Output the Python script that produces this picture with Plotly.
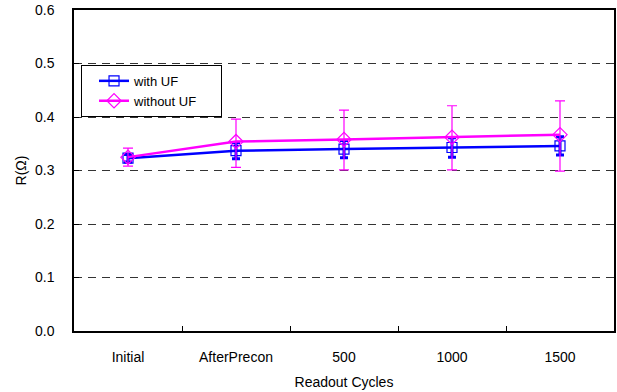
import plotly.graph_objects as go

categories = ["Initial", "AfterPrecon", "500", "1000", "1500"]
series_names = ["with UF", "without UF"]
with_uf = [0.323, 0.337, 0.340, 0.343, 0.346]
with_uf_err = [0.007, 0.015, 0.016, 0.018, 0.017]
without_uf = [0.325, 0.354, 0.358, 0.362, 0.367]
without_uf_err_plus = [0.017, 0.042, 0.055, 0.059, 0.063]
without_uf_err_minus = [0.017, 0.048, 0.057, 0.061, 0.068]

font = "Liberation Sans, Arial, sans-serif"
pad = "\u00a0" * 5  # invisible right padding inside the legend box

fig = go.Figure()
fig.add_trace(go.Scatter(
    x=categories, y=with_uf, name=series_names[0], mode="lines+markers",
    line=dict(color="#0000FF", width=2.5),
    marker=dict(symbol="square-open", size=10, color="#0000FF", line=dict(width=1.2)),
    error_y=dict(type="data", array=with_uf_err, color="#0000FF", thickness=3, width=4),
))
fig.add_trace(go.Scatter(
    x=categories, y=without_uf, name=series_names[1] + pad, mode="lines+markers",
    line=dict(color="#FF00FF", width=2.5),
    marker=dict(symbol="diamond-open", size=11, color="#FF00FF", line=dict(width=1.2)),
    error_y=dict(type="data", symmetric=False, array=without_uf_err_plus,
                 arrayminus=without_uf_err_minus, color="#FF00FF", thickness=1.2, width=5),
))

fig.update_layout(
    width=617, height=392,
    margin=dict(l=74, r=3, t=10, b=61),
    paper_bgcolor="white", plot_bgcolor="white",
    font=dict(family=font, size=14, color="black"),
    showlegend=True,
    legend=dict(x=0.013, y=0.829, xanchor="left", yanchor="top",
                bordercolor="black", borderwidth=1, bgcolor="white",
                font=dict(size=13), tracegroupgap=0, itemwidth=30,
                indentation=12),
)
fig.update_xaxes(
    type="category", range=[-0.5, 4.5], tickson="boundaries",
    ticks="inside", ticklen=5, tickcolor="black", automargin=False,
    showline=True, linecolor="black", linewidth=1.5, mirror=True,
    showgrid=False, ticklabelstandoff=12,
    title=dict(text="Readout Cycles", standoff=14, font=dict(size=14)),
    tickfont=dict(size=14),
)
fig.update_yaxes(
    range=[0, 0.6], dtick=0.1, tickformat=".1f", automargin=False,
    ticks="inside", ticklen=5, tickcolor="black",
    showline=True, linecolor="black", linewidth=1.5, mirror=True,
    showgrid=True, gridcolor="#333333", gridwidth=1, griddash="8px,6px",
    zeroline=False, ticklabelstandoff=15,
    title=dict(text="R(Ω)", standoff=5, font=dict(size=14)),
    tickfont=dict(size=14),
)

fig.write_html("out.html", config={"displayModeBar": False},
               post_script="document.body.style.margin='0';document.body.style.overflow='hidden';")
